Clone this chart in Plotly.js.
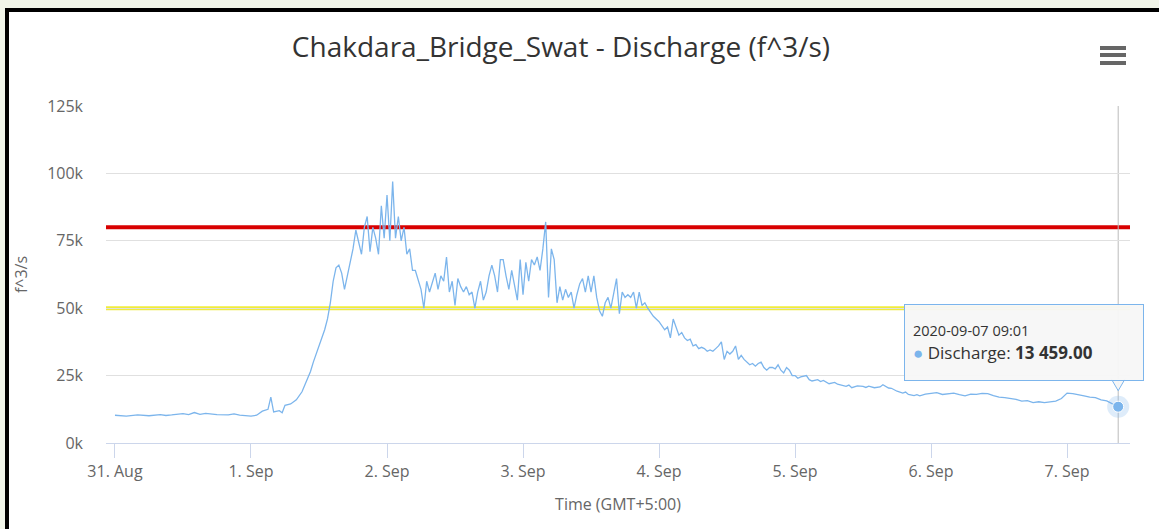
<!DOCTYPE html>
<html>
<head>
<meta charset="utf-8">
<script src="https://cdn.plot.ly/plotly-3.0.1.min.js"></script>
<style>
  html, body { margin:0; padding:0; width:1159px; height:529px; overflow:hidden; background:#f1f5e9; }
  #frame { position:absolute; left:5px; top:8px; width:1200px; height:600px; border-left:4px solid #000; border-top:4px solid #000; background:#fff; }
  #chart { position:absolute; left:0; top:0; width:1159px; height:529px; }
</style>
</head>
<body>
<div id="frame"></div>
<div id="chart"></div>
<script>
// ---- data ----
const times = [
"2020-08-31 00:00","2020-08-31 02:00","2020-08-31 04:00","2020-08-31 06:00","2020-08-31 08:00","2020-08-31 09:00",
"2020-08-31 10:00","2020-08-31 12:00","2020-08-31 13:00","2020-08-31 14:00","2020-08-31 15:00","2020-08-31 16:00",
"2020-08-31 18:00","2020-08-31 20:00","2020-08-31 21:00","2020-08-31 22:00",
"2020-09-01 00:00","2020-09-01 01:00","2020-09-01 02:00","2020-09-01 03:00","2020-09-01 03:30","2020-09-01 04:00",
"2020-09-01 05:00","2020-09-01 05:30","2020-09-01 06:00","2020-09-01 07:00","2020-09-01 08:00","2020-09-01 09:00",
"2020-09-01 10:00","2020-09-01 10:30","2020-09-01 11:00","2020-09-01 12:00","2020-09-01 13:00","2020-09-01 13:30",
"2020-09-01 14:00","2020-09-01 14:30","2020-09-01 15:00","2020-09-01 15:30","2020-09-01 16:00","2020-09-01 16:30",
"2020-09-01 17:00","2020-09-01 17:30","2020-09-01 18:00","2020-09-01 18:30","2020-09-01 19:00","2020-09-01 19:30",
"2020-09-01 20:00","2020-09-01 20:30","2020-09-01 21:00","2020-09-01 21:30","2020-09-01 22:00","2020-09-01 22:30",
"2020-09-01 23:00","2020-09-01 23:30",
"2020-09-02 00:00","2020-09-02 00:30","2020-09-02 01:00","2020-09-02 01:30","2020-09-02 02:00","2020-09-02 02:30",
"2020-09-02 03:00","2020-09-02 03:30","2020-09-02 04:00","2020-09-02 04:30","2020-09-02 05:00","2020-09-02 05:30",
"2020-09-02 06:00","2020-09-02 06:30","2020-09-02 07:00","2020-09-02 07:30","2020-09-02 08:00","2020-09-02 08:30",
"2020-09-02 09:00","2020-09-02 09:30","2020-09-02 10:00","2020-09-02 10:30","2020-09-02 11:00","2020-09-02 11:30",
"2020-09-02 12:00","2020-09-02 12:30","2020-09-02 13:00","2020-09-02 13:30","2020-09-02 14:00","2020-09-02 14:30",
"2020-09-02 15:00","2020-09-02 15:30","2020-09-02 16:00","2020-09-02 16:30","2020-09-02 17:00","2020-09-02 17:30",
"2020-09-02 18:00","2020-09-02 18:30","2020-09-02 19:00","2020-09-02 19:30","2020-09-02 20:00","2020-09-02 20:30",
"2020-09-02 21:00","2020-09-02 21:30","2020-09-02 22:00","2020-09-02 22:30","2020-09-02 23:00","2020-09-02 23:30",
"2020-09-03 00:00","2020-09-03 00:30","2020-09-03 01:00","2020-09-03 01:30","2020-09-03 02:00","2020-09-03 02:30",
"2020-09-03 03:00","2020-09-03 03:30","2020-09-03 04:00","2020-09-03 04:30","2020-09-03 05:00","2020-09-03 05:30",
"2020-09-03 06:00","2020-09-03 06:30","2020-09-03 07:00","2020-09-03 07:30","2020-09-03 08:00","2020-09-03 08:30",
"2020-09-03 09:00","2020-09-03 09:30","2020-09-03 10:00","2020-09-03 10:30","2020-09-03 11:00","2020-09-03 11:30",
"2020-09-03 12:00","2020-09-03 12:30","2020-09-03 13:00","2020-09-03 13:30","2020-09-03 14:00","2020-09-03 14:30",
"2020-09-03 15:00","2020-09-03 15:30","2020-09-03 16:00","2020-09-03 16:30","2020-09-03 17:00","2020-09-03 17:30",
"2020-09-03 18:00","2020-09-03 18:30","2020-09-03 19:00","2020-09-03 19:30","2020-09-03 20:00","2020-09-03 20:30",
"2020-09-03 21:00","2020-09-03 21:30","2020-09-03 22:00","2020-09-03 23:00",
"2020-09-04 00:00","2020-09-04 00:30","2020-09-04 01:00","2020-09-04 01:30","2020-09-04 02:00","2020-09-04 02:30",
"2020-09-04 03:00","2020-09-04 03:30","2020-09-04 04:00","2020-09-04 04:30","2020-09-04 05:00","2020-09-04 05:30",
"2020-09-04 06:00","2020-09-04 06:30","2020-09-04 07:00","2020-09-04 07:30","2020-09-04 08:00","2020-09-04 08:30",
"2020-09-04 09:00","2020-09-04 09:30","2020-09-04 10:00","2020-09-04 10:30","2020-09-04 11:00","2020-09-04 11:30",
"2020-09-04 12:00","2020-09-04 12:30","2020-09-04 13:00","2020-09-04 13:30","2020-09-04 14:00","2020-09-04 14:30",
"2020-09-04 15:00","2020-09-04 15:30","2020-09-04 16:00","2020-09-04 16:30","2020-09-04 17:00","2020-09-04 17:30",
"2020-09-04 18:00","2020-09-04 18:30","2020-09-04 19:00","2020-09-04 19:30","2020-09-04 20:00","2020-09-04 20:30",
"2020-09-04 21:00","2020-09-04 21:30","2020-09-04 22:00","2020-09-04 22:30","2020-09-04 23:00","2020-09-04 23:30",
"2020-09-05 00:00","2020-09-05 00:30","2020-09-05 01:00","2020-09-05 02:00","2020-09-05 02:30","2020-09-05 03:00",
"2020-09-05 04:00","2020-09-05 04:30","2020-09-05 05:00","2020-09-05 06:00","2020-09-05 07:00","2020-09-05 07:30",
"2020-09-05 08:00","2020-09-05 09:00","2020-09-05 09:30","2020-09-05 10:00","2020-09-05 11:00","2020-09-05 12:00",
"2020-09-05 12:30","2020-09-05 13:00","2020-09-05 14:00","2020-09-05 15:00","2020-09-05 15:30","2020-09-05 16:00",
"2020-09-05 16:30","2020-09-05 17:00","2020-09-05 18:00","2020-09-05 19:00","2020-09-05 19:30","2020-09-05 20:00",
"2020-09-05 21:00","2020-09-05 21:30","2020-09-05 22:00","2020-09-05 23:00",
"2020-09-06 00:00","2020-09-06 01:00","2020-09-06 02:00","2020-09-06 03:00","2020-09-06 04:00","2020-09-06 05:00",
"2020-09-06 06:00","2020-09-06 07:00","2020-09-06 08:00","2020-09-06 09:00","2020-09-06 10:00","2020-09-06 11:00",
"2020-09-06 12:00","2020-09-06 13:00","2020-09-06 14:00","2020-09-06 15:00","2020-09-06 16:00","2020-09-06 17:00",
"2020-09-06 18:00","2020-09-06 19:00","2020-09-06 20:00","2020-09-06 21:00","2020-09-06 22:00","2020-09-06 23:00",
"2020-09-07 00:00","2020-09-07 01:00","2020-09-07 02:00","2020-09-07 03:00","2020-09-07 04:00","2020-09-07 05:00",
"2020-09-07 06:00","2020-09-07 07:00","2020-09-07 08:00","2020-09-07 08:30","2020-09-07 09:01"
];
const discharge = [
10300,10000,10400,10100,10500,10200,
10400,10900,10500,11300,10600,11000,
10500,10400,10800,10300,
10000,10300,11800,12500,17000,11500,
12000,11200,14000,14500,16000,19000,
24000,26500,30000,36000,42000,46000,
52000,60000,65000,66000,63000,57000,
62000,68000,72000,79000,74000,70000,
80000,84000,71000,80000,76000,70000,
88000,76000,
92000,75000,97000,76000,84000,75000,
80000,70000,72000,64000,64000,60000,
57000,50000,60000,56000,60000,63000,
57000,62000,60000,69000,56000,60000,
51000,61000,58000,56000,58000,55000,
56000,50000,56000,60000,53000,56000,
62000,66000,62000,56000,68000,68000,
62000,57000,64000,58000,53000,68000,
55000,67000,60000,68000,66000,69000,
64000,72000,82000,54000,72000,68000,
52000,58000,53000,57000,54000,56000,
50000,55000,59000,61000,56000,62000,
56000,62000,54000,49000,47000,52000,
54000,50000,55000,61000,48000,56000,
54000,55000,54000,56000,50000,56000,
51000,52000,50000,47000,
45000,43500,42000,43000,39000,46000,
43000,40000,41000,39000,38000,38500,
36000,36500,35000,35500,35000,34000,
34500,34000,35000,36000,37500,31000,
34000,33000,34000,36000,31000,32500,
31000,30000,29000,29500,28500,29500,
30000,28000,27000,28000,28000,27500,
29000,27000,26000,28000,27000,25000,
25000,24000,24500,25000,23500,23000,
23500,22800,23200,22000,22500,21800,
21600,21000,21500,20500,21200,21000,
20600,21100,20500,20800,21600,21000,
20400,20300,19200,18500,18900,18000,
17600,17900,17500,18100,
18400,18700,18000,18300,18500,17900,
17500,18100,18000,18400,18300,17600,
17000,16800,16500,16200,15500,15700,
15000,15300,15000,15200,15500,16500,
18500,18300,18000,17500,17000,16800,
16000,15600,14500,14200,13459
];
const seriesName = "Discharge";
const thresholdValues = [80000, 50000];
const thresholdColors = ["#d80000", "#f0ec3c"];
const yTickVals = [0, 25000, 50000, 75000, 100000, 125000];
const yTickText = ["0k", "25k", "50k", "75k", "100k", "125k"];
const xTickVals = ["2020-08-31","2020-09-01","2020-09-02","2020-09-03","2020-09-04","2020-09-05","2020-09-06","2020-09-07"];
const xTickText = ["31. Aug","1. Sep","2. Sep","3. Sep","4. Sep","5. Sep","6. Sep","7. Sep"];
const xRange = ["2020-08-30 22:25", "2020-09-07 11:06"];
const tooltipTime = "2020-09-07 09:01";
const tooltipValueText = "13 459.00";

const FONT = "Open Sans, Noto Sans, sans-serif";
const lastX = times[times.length - 1];
const lastY = discharge[discharge.length - 1];

const traces = [
  { x: times, y: discharge, type: "scatter", mode: "lines", name: seriesName,
    line: { color: "#7cb5ec", width: 1.3 }, hoverinfo: "skip" },
  { x: [lastX], y: [lastY], type: "scatter", mode: "markers", hoverinfo: "skip",
    marker: { size: 22, color: "rgba(124,181,236,0.25)" } },
  { x: [lastX], y: [lastY], type: "scatter", mode: "markers", hoverinfo: "skip",
    marker: { size: 11, color: "#7cb5ec", line: { color: "#ffffff", width: 1 } } }
];

const shapes = thresholdValues.map((v, i) => ({
  type: "line", xref: "paper", x0: 0, x1: 1, yref: "y", y0: v, y1: v,
  layer: "between", line: { color: thresholdColors[i], width: 4 }
}));
// crosshair
shapes.push({ type: "line", xref: "x", x0: lastX, x1: lastX, yref: "paper", y0: 0, y1: 1,
  layer: "below", line: { color: "#bbbbbb", width: 1 } });
// tooltip callout tip
shapes.push({ type: "path", xref: "x", xsizemode: "pixel", xanchor: lastX,
  yref: "y", ysizemode: "pixel", yanchor: lastY,
  path: "M -7 28 L 0 16 L 7 28", line: { color: "#7cb5ec", width: 1 }, fillcolor: "rgba(247,247,247,0.95)" });
// hamburger menu icon
[1.1721, 1.1513, 1.1276].forEach(yy => shapes.push({
  type: "line", xref: "paper", yref: "paper", x0: 0.9707, x1: 0.9961, y0: yy, y1: yy,
  line: { color: "#666666", width: 4 }
}));

const layout = {
  width: 1159, height: 529,
  margin: { l: 106, r: 29, t: 106, b: 86, pad: 0 },
  paper_bgcolor: "rgba(0,0,0,0)", plot_bgcolor: "rgba(0,0,0,0)",
  showlegend: false,
  font: { family: FONT, color: "#666666", size: 16 },
  title: { text: "Chakdara_Bridge_Swat - Discharge (f^3/s)", font: { family: FONT, size: 28, color: "#333333" },
           x: 0.484, xanchor: "center", xref: "container", y: 1 - 47/529, yanchor: "middle", yref: "container" },
  xaxis: {
    type: "date", range: xRange, tickvals: xTickVals, ticktext: xTickText,
    showgrid: false, zeroline: false, showline: true, linecolor: "#ccd6eb", linewidth: 1,
    ticks: "outside", ticklen: 14, tickcolor: "#ccd6eb", tickwidth: 1,
    tickfont: { family: FONT, size: 16, color: "#666666" },
    title: { text: "Time (GMT+5:00)", font: { family: FONT, size: 16, color: "#666666" }, standoff: 17 },
    fixedrange: true
  },
  yaxis: {
    range: [0, 125000], tickvals: yTickVals, ticktext: yTickText,
    showgrid: true, gridcolor: "#e0e0e0", gridwidth: 1, zeroline: false, showline: false,
    ticks: "", ticklabelstandoff: 22,
    tickfont: { family: FONT, size: 16, color: "#666666" },
    title: { text: "f^3/s", font: { family: FONT, size: 16, color: "#666666" }, standoff: 15 },
    fixedrange: true
  },
  shapes: shapes,
  annotations: [{
    x: lastX, y: lastY, xref: "x", yref: "y", showarrow: false,
    xanchor: "center", yanchor: "middle", xshift: -94, yshift: 64,
    width: 222, height: 59, align: "left", valign: "middle", borderpad: 8,
    bgcolor: "rgba(247,247,247,0.95)", bordercolor: "#7cb5ec", borderwidth: 1,
    font: { family: FONT, size: 17, color: "#333333" },
    text: '<span style="font-size:14.5px">' + tooltipTime + '</span><br><span style="color:#7cb5ec">●</span> ' + seriesName + ': <b>' + tooltipValueText + '</b>'
  }]
};

Plotly.newPlot("chart", traces, layout, { displayModeBar: false, staticPlot: true });
</script>
</body>
</html>
